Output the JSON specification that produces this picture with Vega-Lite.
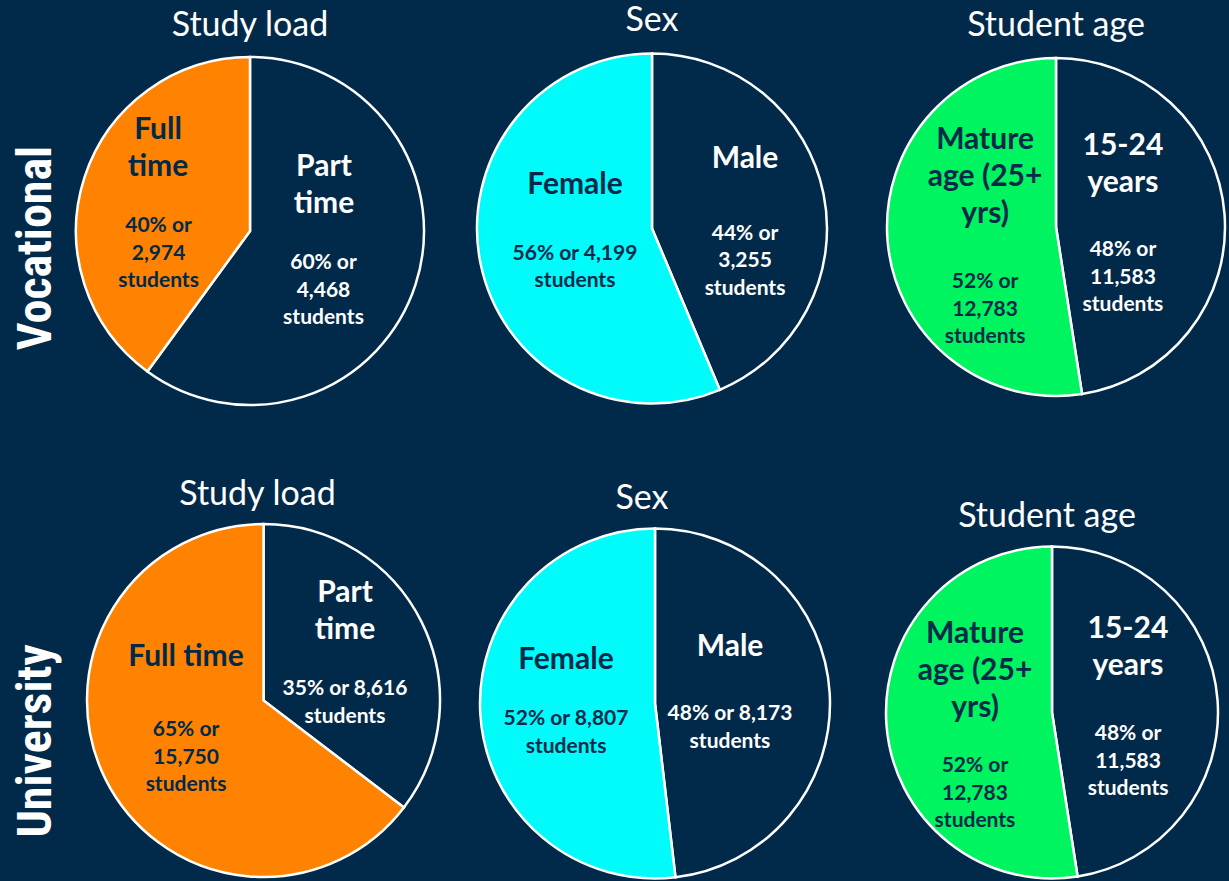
{
  "$schema": "https://vega.github.io/schema/vega-lite/v6.json",
  "background": "#012a4a",
  "padding": 0,
  "columns": 4,
  "align": "none",
  "bounds": "flush",
  "spacing": {"row": 50, "column": 27},
  "resolve": {"scale": {"color": "independent", "theta": "independent"}},
  "config": {
    "view": {"stroke": null},
    "title": {"font": "Lato", "fontSize": 34, "fontWeight": "normal", "color": "white", "baseline": "middle", "frame": "group", "anchor": "middle"},
    "text": {"font": "Lato"}
  },
  "concat": [
    {
      "width": 70, "height": 496,
      "data": {"values": [{"label": "Vocational"}]},
      "mark": {"type": "text", "angle": 270, "dy": 2, "font": "Liberation Sans Narrow, Roboto Condensed, DejaVu Sans Condensed, sans-serif", "fontWeight": "bold", "fontSize": 48, "color": "white", "baseline": "middle", "align": "center"},
      "encoding": {"text": {"field": "label"}}
    },
    {
      "width": 298, "height": 462,
      "title": {"text": "Study load", "offset": -42.5},
      "data": {"values": [
        {"cat": "Part time", "name": "Part\ntime", "stats": "60% or\n4,468\nstudents", "n": 4468, "rank": 1},
        {"cat": "Full time", "name": "Full\ntime", "stats": "40% or\n2,974\nstudents", "n": 2974, "rank": 2}
      ]},
      "resolve": {"scale": {"theta": "independent"}},
      "layer": [
        {"mark": {"type": "arc", "radius": 174, "stroke": "white", "strokeWidth": 2.5},
         "encoding": {"theta": {"field": "n", "type": "quantitative", "stack": true}, "order": {"field": "rank", "type": "quantitative"},
           "color": {"field": "cat", "type": "nominal", "scale": {"domain": ["Part time", "Full time"], "range": ["#012a4a", "#ff8200"]}, "legend": null}}},
        {"mark": {"type": "text", "radius": 85, "dx": -9, "dy": -82.8, "fontSize": 30, "fontWeight": "bold", "lineBreak": "\n", "lineHeight": 37, "baseline": "middle", "align": "center"},
         "encoding": {"theta": {"field": "n", "type": "quantitative", "stack": true, "scale": {"range": [-0.096, 6.187]}}, "order": {"field": "rank", "type": "quantitative"},
           "text": {"field": "name"}, "color": {"condition": {"test": "datum.rank == 2", "value": "#012a4a"}, "value": "white"}}},
        {"mark": {"type": "text", "radius": 84.5, "dx": -9, "dy": 13.8, "fontSize": 21, "fontWeight": "bold", "lineBreak": "\n", "lineHeight": 27.5, "baseline": "middle", "align": "center"},
         "encoding": {"theta": {"field": "n", "type": "quantitative", "stack": true, "scale": {"range": [-0.096, 6.187]}}, "order": {"field": "rank", "type": "quantitative"},
           "text": {"field": "stats"}, "color": {"condition": {"test": "datum.rank == 2", "value": "#012a4a"}, "value": "white"}}}
      ]
    },
    {
      "width": 398, "height": 457,
      "title": {"text": "Sex", "offset": -37.5},
      "data": {"values": [
        {"cat": "Male", "name": "Male", "stats": "44% or\n3,255\nstudents", "n": 3255, "rank": 1},
        {"cat": "Female", "name": "Female", "stats": "56% or 4,199\nstudents", "n": 4199, "rank": 2}
      ]},
      "resolve": {"scale": {"theta": "independent"}},
      "layer": [
        {"mark": {"type": "arc", "radius": 175, "stroke": "white", "strokeWidth": 2.5},
         "encoding": {"theta": {"field": "n", "type": "quantitative", "stack": true}, "order": {"field": "rank", "type": "quantitative"},
           "color": {"field": "cat", "type": "nominal", "scale": {"domain": ["Male", "Female"], "range": ["#012a4a", "#00fbfb"]}, "legend": null}}},
        {"mark": {"type": "text", "radius": 86, "dx": 8, "dy": -56.8, "fontSize": 30, "fontWeight": "bold", "lineBreak": "\n", "lineHeight": 37, "baseline": "middle", "align": "center"},
         "encoding": {"theta": {"field": "n", "type": "quantitative", "stack": true, "scale": {"range": [0.0471, 6.3303]}}, "order": {"field": "rank", "type": "quantitative"},
           "text": {"field": "name"}, "color": {"condition": {"test": "datum.rank == 2", "value": "#012a4a"}, "value": "white"}}},
        {"mark": {"type": "text", "radius": 85.6, "dx": 8, "dy": 15.3, "fontSize": 21, "fontWeight": "bold", "lineBreak": "\n", "lineHeight": 27.5, "baseline": "middle", "align": "center"},
         "encoding": {"theta": {"field": "n", "type": "quantitative", "stack": true, "scale": {"range": [0.082, 6.3652]}}, "order": {"field": "rank", "type": "quantitative"},
           "text": {"field": "stats"}, "color": {"condition": {"test": "datum.rank == 2", "value": "#012a4a"}, "value": "white"}}}
      ]
    },
    {
      "width": 344, "height": 454,
      "title": {"text": "Student age", "offset": -43},
      "data": {"values": [
        {"cat": "15-24 years", "name": "15-24\nyears", "stats": "48% or\n11,583\nstudents", "n": 11583, "rank": 1},
        {"cat": "Mature age (25+ yrs)", "name": "Mature\nage (25+\nyrs)", "stats": "52% or\n12,783\nstudents", "n": 12783, "rank": 2}
      ]},
      "resolve": {"scale": {"theta": "independent"}},
      "layer": [
        {"mark": {"type": "arc", "radius": 169, "stroke": "white", "strokeWidth": 2.5},
         "encoding": {"theta": {"field": "n", "type": "quantitative", "stack": true}, "order": {"field": "rank", "type": "quantitative"},
           "color": {"field": "cat", "type": "nominal", "scale": {"domain": ["15-24 years", "Mature age (25+ yrs)"], "range": ["#012a4a", "#00f460"]}, "legend": null}}},
        {"mark": {"type": "text", "radius": 69, "dx": -2, "dy": -84.3, "fontSize": 30, "fontWeight": "bold", "lineBreak": "\n", "lineHeight": 37, "baseline": "middle", "align": "center"},
         "encoding": {"theta": {"field": "n", "type": "quantitative", "stack": true, "scale": {"range": [0.1204, 6.4036]}}, "order": {"field": "rank", "type": "quantitative"},
           "text": {"field": "name"}, "color": {"condition": {"test": "datum.rank == 2", "value": "#012a4a"}, "value": "white"}}},
        {"mark": {"type": "text", "radius": 70.8, "dx": -2, "dy": 39.3, "fontSize": 21, "fontWeight": "bold", "lineBreak": "\n", "lineHeight": 27.5, "baseline": "middle", "align": "center"},
         "encoding": {"theta": {"field": "n", "type": "quantitative", "stack": true, "scale": {"range": [-0.1518, 6.1314]}}, "order": {"field": "rank", "type": "quantitative"},
           "text": {"field": "stats"}, "color": {"condition": {"test": "datum.rank == 2", "value": "#012a4a"}, "value": "white"}}}
      ]
    },
    {
      "width": 74, "height": 333,
      "data": {"values": [{"label": "University"}]},
      "mark": {"type": "text", "angle": 270, "dx": -28.5, "font": "Liberation Sans Narrow, Roboto Condensed, DejaVu Sans Condensed, sans-serif", "fontWeight": "bold", "fontSize": 48, "color": "white", "baseline": "middle", "align": "center"},
      "encoding": {"text": {"field": "label"}}
    },
    {
      "width": 325, "height": 309,
      "title": {"text": "Study load", "offset": 7.25, "dx": -6},
      "data": {"values": [
        {"cat": "Part time", "name": "Part\ntime", "stats": "35% or 8,616\nstudents", "n": 8616, "rank": 1},
        {"cat": "Full time", "name": "Full time", "stats": "65% or\n15,750\nstudents", "n": 15750, "rank": 2}
      ]},
      "resolve": {"scale": {"theta": "independent"}},
      "layer": [
        {"mark": {"type": "arc", "radius": 176.5, "stroke": "white", "strokeWidth": 2.5},
         "encoding": {"theta": {"field": "n", "type": "quantitative", "stack": true}, "order": {"field": "rank", "type": "quantitative"},
           "color": {"field": "cat", "type": "nominal", "scale": {"domain": ["Part time", "Full time"], "range": ["#012a4a", "#ff8200"]}, "legend": null}}},
        {"mark": {"type": "text", "radius": 85.7, "dx": 2, "dy": -75.8, "fontSize": 30, "fontWeight": "bold", "lineBreak": "\n", "lineHeight": 37, "baseline": "middle", "align": "center"},
         "encoding": {"theta": {"field": "n", "type": "quantitative", "stack": true, "scale": {"range": [0.0777, 6.3609]}}, "order": {"field": "rank", "type": "quantitative"},
           "text": {"field": "name"}, "color": {"condition": {"test": "datum.rank == 2", "value": "#012a4a"}, "value": "white"}}},
        {"mark": {"type": "text", "radius": 82.1, "dx": 2, "dy": 9.3, "fontSize": 21, "fontWeight": "bold", "lineBreak": "\n", "lineHeight": 27.5, "baseline": "middle", "align": "center"},
         "encoding": {"theta": {"field": "n", "type": "quantitative", "stack": true, "scale": {"range": [0.2068, 6.49]}}, "order": {"field": "rank", "type": "quantitative"},
           "text": {"field": "stats"}, "color": {"condition": {"test": "datum.rank == 2", "value": "#012a4a"}, "value": "white"}}}
      ]
    },
    {
      "width": 404, "height": 315,
      "title": {"text": "Sex", "offset": 7.75, "dx": -13},
      "data": {"values": [
        {"cat": "Male", "name": "Male", "stats": "48% or 8,173\nstudents", "n": 8173, "rank": 1},
        {"cat": "Female", "name": "Female", "stats": "52% or 8,807\nstudents", "n": 8807, "rank": 2}
      ]},
      "resolve": {"scale": {"theta": "independent"}},
      "layer": [
        {"mark": {"type": "arc", "radius": 175, "stroke": "white", "strokeWidth": 2.5},
         "encoding": {"theta": {"field": "n", "type": "quantitative", "stack": true}, "order": {"field": "rank", "type": "quantitative"},
           "color": {"field": "cat", "type": "nominal", "scale": {"domain": ["Male", "Female"], "range": ["#012a4a", "#00fbfb"]}, "legend": null}}},
        {"mark": {"type": "text", "radius": 82.3, "dx": -7, "dy": -50.3, "fontSize": 30, "fontWeight": "bold", "lineBreak": "\n", "lineHeight": 37, "baseline": "middle", "align": "center"},
         "encoding": {"theta": {"field": "n", "type": "quantitative", "stack": true, "scale": {"range": [-0.0192, 6.264]}}, "order": {"field": "rank", "type": "quantitative"},
           "text": {"field": "name"}, "color": {"condition": {"test": "datum.rank == 2", "value": "#012a4a"}, "value": "white"}}},
        {"mark": {"type": "text", "radius": 82, "dx": -7, "dy": 13.3, "fontSize": 21, "fontWeight": "bold", "lineBreak": "\n", "lineHeight": 27.5, "baseline": "middle", "align": "center"},
         "encoding": {"theta": {"field": "n", "type": "quantitative", "stack": true, "scale": {"range": [0.0297, 6.3129]}}, "order": {"field": "rank", "type": "quantitative"},
           "text": {"field": "stats"}, "color": {"condition": {"test": "datum.rank == 2", "value": "#012a4a"}, "value": "white"}}}
      ]
    },
    {
      "width": 336, "height": 333,
      "title": {"text": "Student age", "offset": 7.25, "dx": -5},
      "data": {"values": [
        {"cat": "15-24 years", "name": "15-24\nyears", "stats": "48% or\n11,583\nstudents", "n": 11583, "rank": 1},
        {"cat": "Mature age (25+ yrs)", "name": "Mature\nage (25+\nyrs)", "stats": "52% or\n12,783\nstudents", "n": 12783, "rank": 2}
      ]},
      "resolve": {"scale": {"theta": "independent"}},
      "layer": [
        {"mark": {"type": "arc", "radius": 166, "stroke": "white", "strokeWidth": 2.5},
         "encoding": {"theta": {"field": "n", "type": "quantitative", "stack": true}, "order": {"field": "rank", "type": "quantitative"},
           "color": {"field": "cat", "type": "nominal", "scale": {"domain": ["15-24 years", "Mature age (25+ yrs)"], "range": ["#012a4a", "#00f460"]}, "legend": null}}},
        {"mark": {"type": "text", "radius": 76.5, "dx": -0.5, "dy": -81.3, "fontSize": 30, "fontWeight": "bold", "lineBreak": "\n", "lineHeight": 37, "baseline": "middle", "align": "center"},
         "encoding": {"theta": {"field": "n", "type": "quantitative", "stack": true, "scale": {"range": [0.0436, 6.3268]}}, "order": {"field": "rank", "type": "quantitative"},
           "text": {"field": "name"}, "color": {"condition": {"test": "datum.rank == 2", "value": "#012a4a"}, "value": "white"}}},
        {"mark": {"type": "text", "radius": 78.2, "dx": -0.5, "dy": 37.8, "fontSize": 21, "fontWeight": "bold", "lineBreak": "\n", "lineHeight": 27.5, "baseline": "middle", "align": "center"},
         "encoding": {"theta": {"field": "n", "type": "quantitative", "stack": true, "scale": {"range": [-0.1292, 6.154]}}, "order": {"field": "rank", "type": "quantitative"},
           "text": {"field": "stats"}, "color": {"condition": {"test": "datum.rank == 2", "value": "#012a4a"}, "value": "white"}}}
      ]
    }
  ]
}
